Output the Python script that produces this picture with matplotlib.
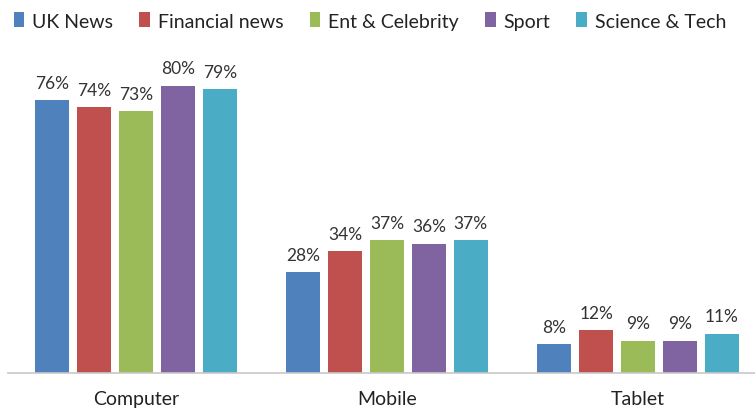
import numpy as np
import matplotlib.pyplot as plt

plt.rcParams['font.family'] = ['Lato', 'DejaVu Sans']

devices = ['Computer', 'Mobile', 'Tablet']
series_names = ['UK News', 'Financial news', 'Ent & Celebrity', 'Sport', 'Science & Tech']
uk_news = [76, 28, 8]
financial = [74, 34, 12]
ent_celebrity = [73, 37, 9]
sport = [80, 36, 9]
science_tech = [79, 37, 11]
colors = ['#4F81BD', '#C0504D', '#9BBB59', '#8064A2', '#4BACC6']

all_series = [uk_news, financial, ent_celebrity, sport, science_tech]

fig = plt.figure(figsize=(7.55, 4.10), dpi=100)
ax = fig.add_axes([8 / 755, 36 / 410, 747 / 755, 359 / 410])

x = np.arange(len(devices))
width = 0.135
step = 0.167
for i, (vals, name, c) in enumerate(zip(all_series, series_names, colors)):
    pos = x + (i - 2) * step
    bars = ax.bar(pos, vals, width, color=c, label=name)
    for b, v in zip(bars, vals):
        ax.text(b.get_x() + b.get_width() / 2, v + 2.6, str(v) + '%',
                ha='center', va='bottom', fontsize=12.5, color='#333333')

ax.set_xlim(-0.51, 2.466)
ax.set_ylim(0, 100)
ax.set_xticks(x)
ax.set_xticklabels(devices, fontsize=14, color='#222222')
ax.tick_params(axis='x', length=0, pad=12)
ax.set_yticks([])
for s in ['top', 'right', 'left']:
    ax.spines[s].set_visible(False)
ax.spines['bottom'].set_color('#c8c8c8')
ax.spines['bottom'].set_linewidth(1.2)

fig.legend(loc='upper center', bbox_to_anchor=(0.49, 1.01), ncol=5, frameon=False,
           fontsize=14, handlelength=0.55, handleheight=0.8, handletextpad=0.4,
           columnspacing=1.35, labelcolor='#222222')

fig.savefig('out.png', dpi=100)
